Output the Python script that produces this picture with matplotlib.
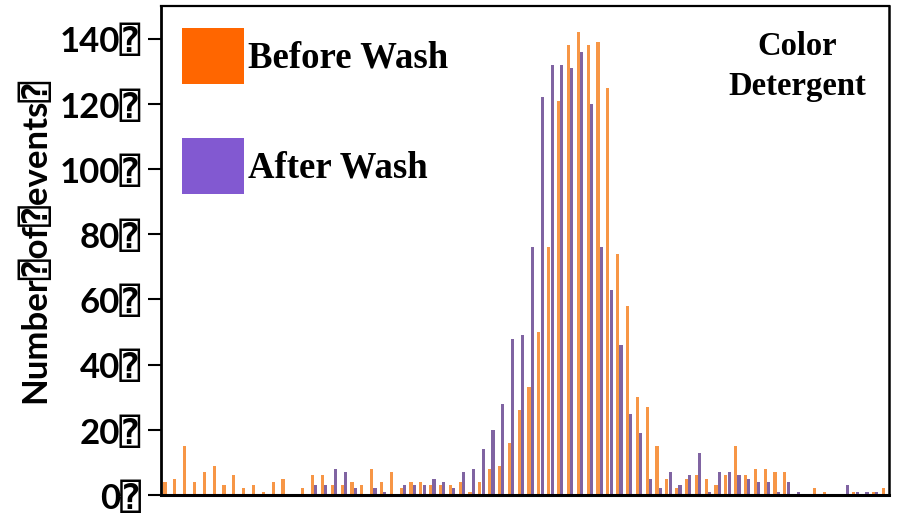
import numpy as np
import matplotlib
matplotlib.use("Agg")
import matplotlib.pyplot as plt
from matplotlib.patches import Patch

# Event counts per size bin
before_wash = [4, 5, 15, 4, 7, 9, 3, 6, 2, 3, 1, 4, 5, 0, 2, 6, 6, 3, 3, 4,
               3, 8, 4, 7, 2, 4, 4, 3, 3, 3, 4, 1, 4, 8, 9, 16, 26, 33, 50, 76,
               121, 138, 142, 138, 139, 125, 74, 58, 30, 27, 15, 5, 2, 5, 6, 5, 3, 6, 15, 6,
               8, 8, 7, 7, 0, 0, 2, 1, 0, 0, 1, 0, 1, 2]
after_wash = [0, 0, 0, 0, 0, 0, 0, 0, 0, 0, 0, 0, 0, 0, 0, 3, 3, 8, 7, 2,
              0, 2, 1, 0, 3, 3, 3, 5, 4, 2, 7, 8, 14, 20, 28, 48, 49, 76, 122, 132,
              132, 131, 136, 120, 76, 63, 46, 25, 19, 5, 2, 7, 3, 6, 13, 1, 7, 7, 6, 5,
              4, 4, 1, 4, 1, 0, 0, 0, 0, 3, 1, 1, 1, 0]
y_ticks = [0, 20, 40, 60, 80, 100, 120, 140]
series_labels = ["Before Wash", "After Wash"]
panel_title = "Color\nDetergent"

bar_colors = ["#F79646", "#8064A2"]
legend_colors = ["#FF6600", "#8259D1"]

W, H, DPI = 901, 514, 100
fig = plt.figure(figsize=(W / DPI, H / DPI), dpi=DPI)
ax = fig.add_axes([161 / W, (H - 495) / H, (889 - 161) / W, (495 - 6) / H])

x = np.arange(len(before_wash))
width = 0.32
offset = 0.17
ax.bar(x - offset, before_wash, width=width, color=bar_colors[0], linewidth=0)
ax.bar(x + offset, after_wash, width=width, color=bar_colors[1], linewidth=0)

ax.set_xlim(-0.574, 73.41)
ax.set_ylim(0, 150)

sans = ["Lato", "DejaVu Sans", "DejaVu Sans Mono"]
serif = ["Liberation Serif", "DejaVu Serif"]

ax.set_xticks([])
ax.set_yticks(y_ticks)
ax.set_yticklabels([f"{v}\u2370" for v in y_ticks], fontsize=25,
                   fontweight="bold", family=sans)
ax.tick_params(axis="y", direction="out", length=9.4, width=1.5, pad=5.0,
               colors="black")

for side, lw in {"left": 2.0, "bottom": 2.2, "top": 1.6, "right": 1.8}.items():
    ax.spines[side].set_linewidth(lw)
    ax.spines[side].set_color("black")

fig.text(35 / W, 1 - 240 / H, "Number\u2370of\u2370events\u2370", rotation=90,
         ha="center", va="center", fontsize=25, fontweight="bold", family=sans)

handles = [Patch(facecolor=c, edgecolor="none") for c in legend_colors]
leg = ax.legend(handles, series_labels, loc="upper left", frameon=False,
                prop={"family": serif, "weight": "bold", "size": 26.5},
                handlelength=1.68, handleheight=1.95, handletextpad=0.1,
                labelspacing=1.48, borderaxespad=0.0, borderpad=0.0)
# place the legend block inside the frame, top-left
leg.set_bbox_to_anchor(((182 - 161) / (889 - 161), 1 - (28 - 6) / (495 - 6)),
                       transform=ax.transAxes)

ax.text((797 - 161) / (889 - 161), 1 - (31 - 6) / (495 - 6), panel_title,
        transform=ax.transAxes, ha="center", va="top", fontsize=23.5,
        fontweight="bold", family=serif, linespacing=1.37)

fig.savefig("out.png", dpi=DPI)
